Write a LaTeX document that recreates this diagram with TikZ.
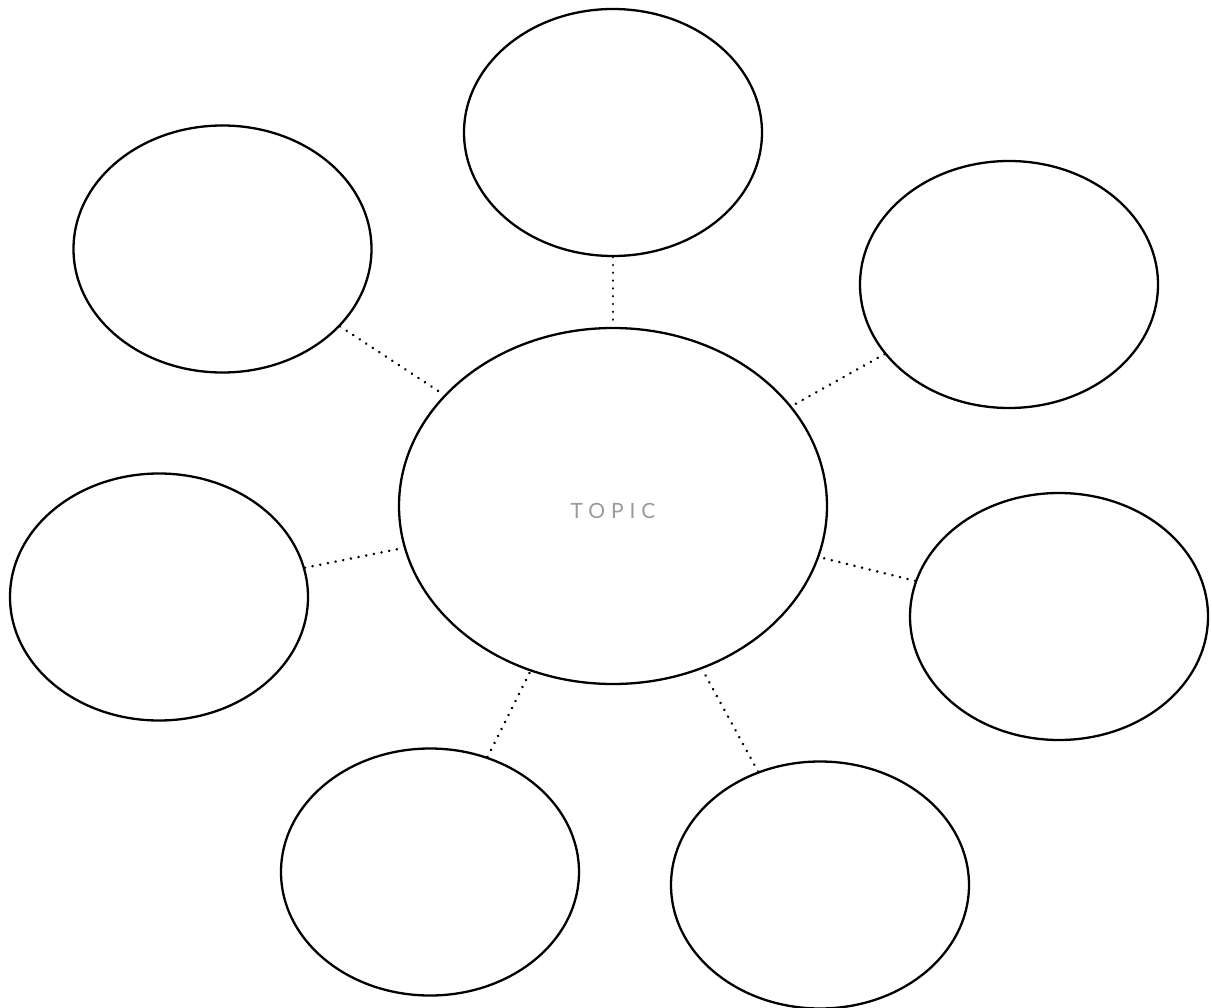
\documentclass[tikz,border=0pt]{standalone}
\usepackage{fontspec}
\usetikzlibrary{shapes.geometric}
\newfontfamily\topicfont[LetterSpace=28]{Lato}
\definecolor{topicgray}{HTML}{9A9A9A}
\tikzset{
  bubble/.style={draw=black, line width=2.3pt, ellipse, inner sep=0pt,
    minimum width=298pt, minimum height=247pt},
  mainbubble/.style={bubble, minimum width=428pt, minimum height=356pt},
  link/.style={line width=2.8pt, line cap=round, dash pattern=on 0.01pt off 7.8pt},
}
\begin{document}
\begin{tikzpicture}[x=1pt,y=-1pt]
\useasboundingbox (0,0) rectangle (1212,1008);
\node[mainbubble] (main) at (613,506) {};
\node[text=topicgray, font=\topicfont\fontsize{21}{24}\selectfont] (topic) at (613,511) {TOPIC};
\node[bubble] (top) at (613,132.5) {};
\node[bubble] (ul) at (222.5,249) {};
\node[bubble] (ur) at (1009,284.5) {};
\node[bubble] (left) at (159,597) {};
\node[bubble] (right) at (1059,616.5) {};
\node[bubble] (bl) at (430,872) {};
\node[bubble] (br) at (820,885) {};
\draw[link] (top) -- (main);
\draw[link] (ul) -- (main);
\draw[link] (ur) -- (main);
\draw[link] (left) -- (main);
\draw[link] (right) -- (main);
\draw[link] (bl) -- (main);
\draw[link] (br) -- (main);
\end{tikzpicture}
\end{document}
